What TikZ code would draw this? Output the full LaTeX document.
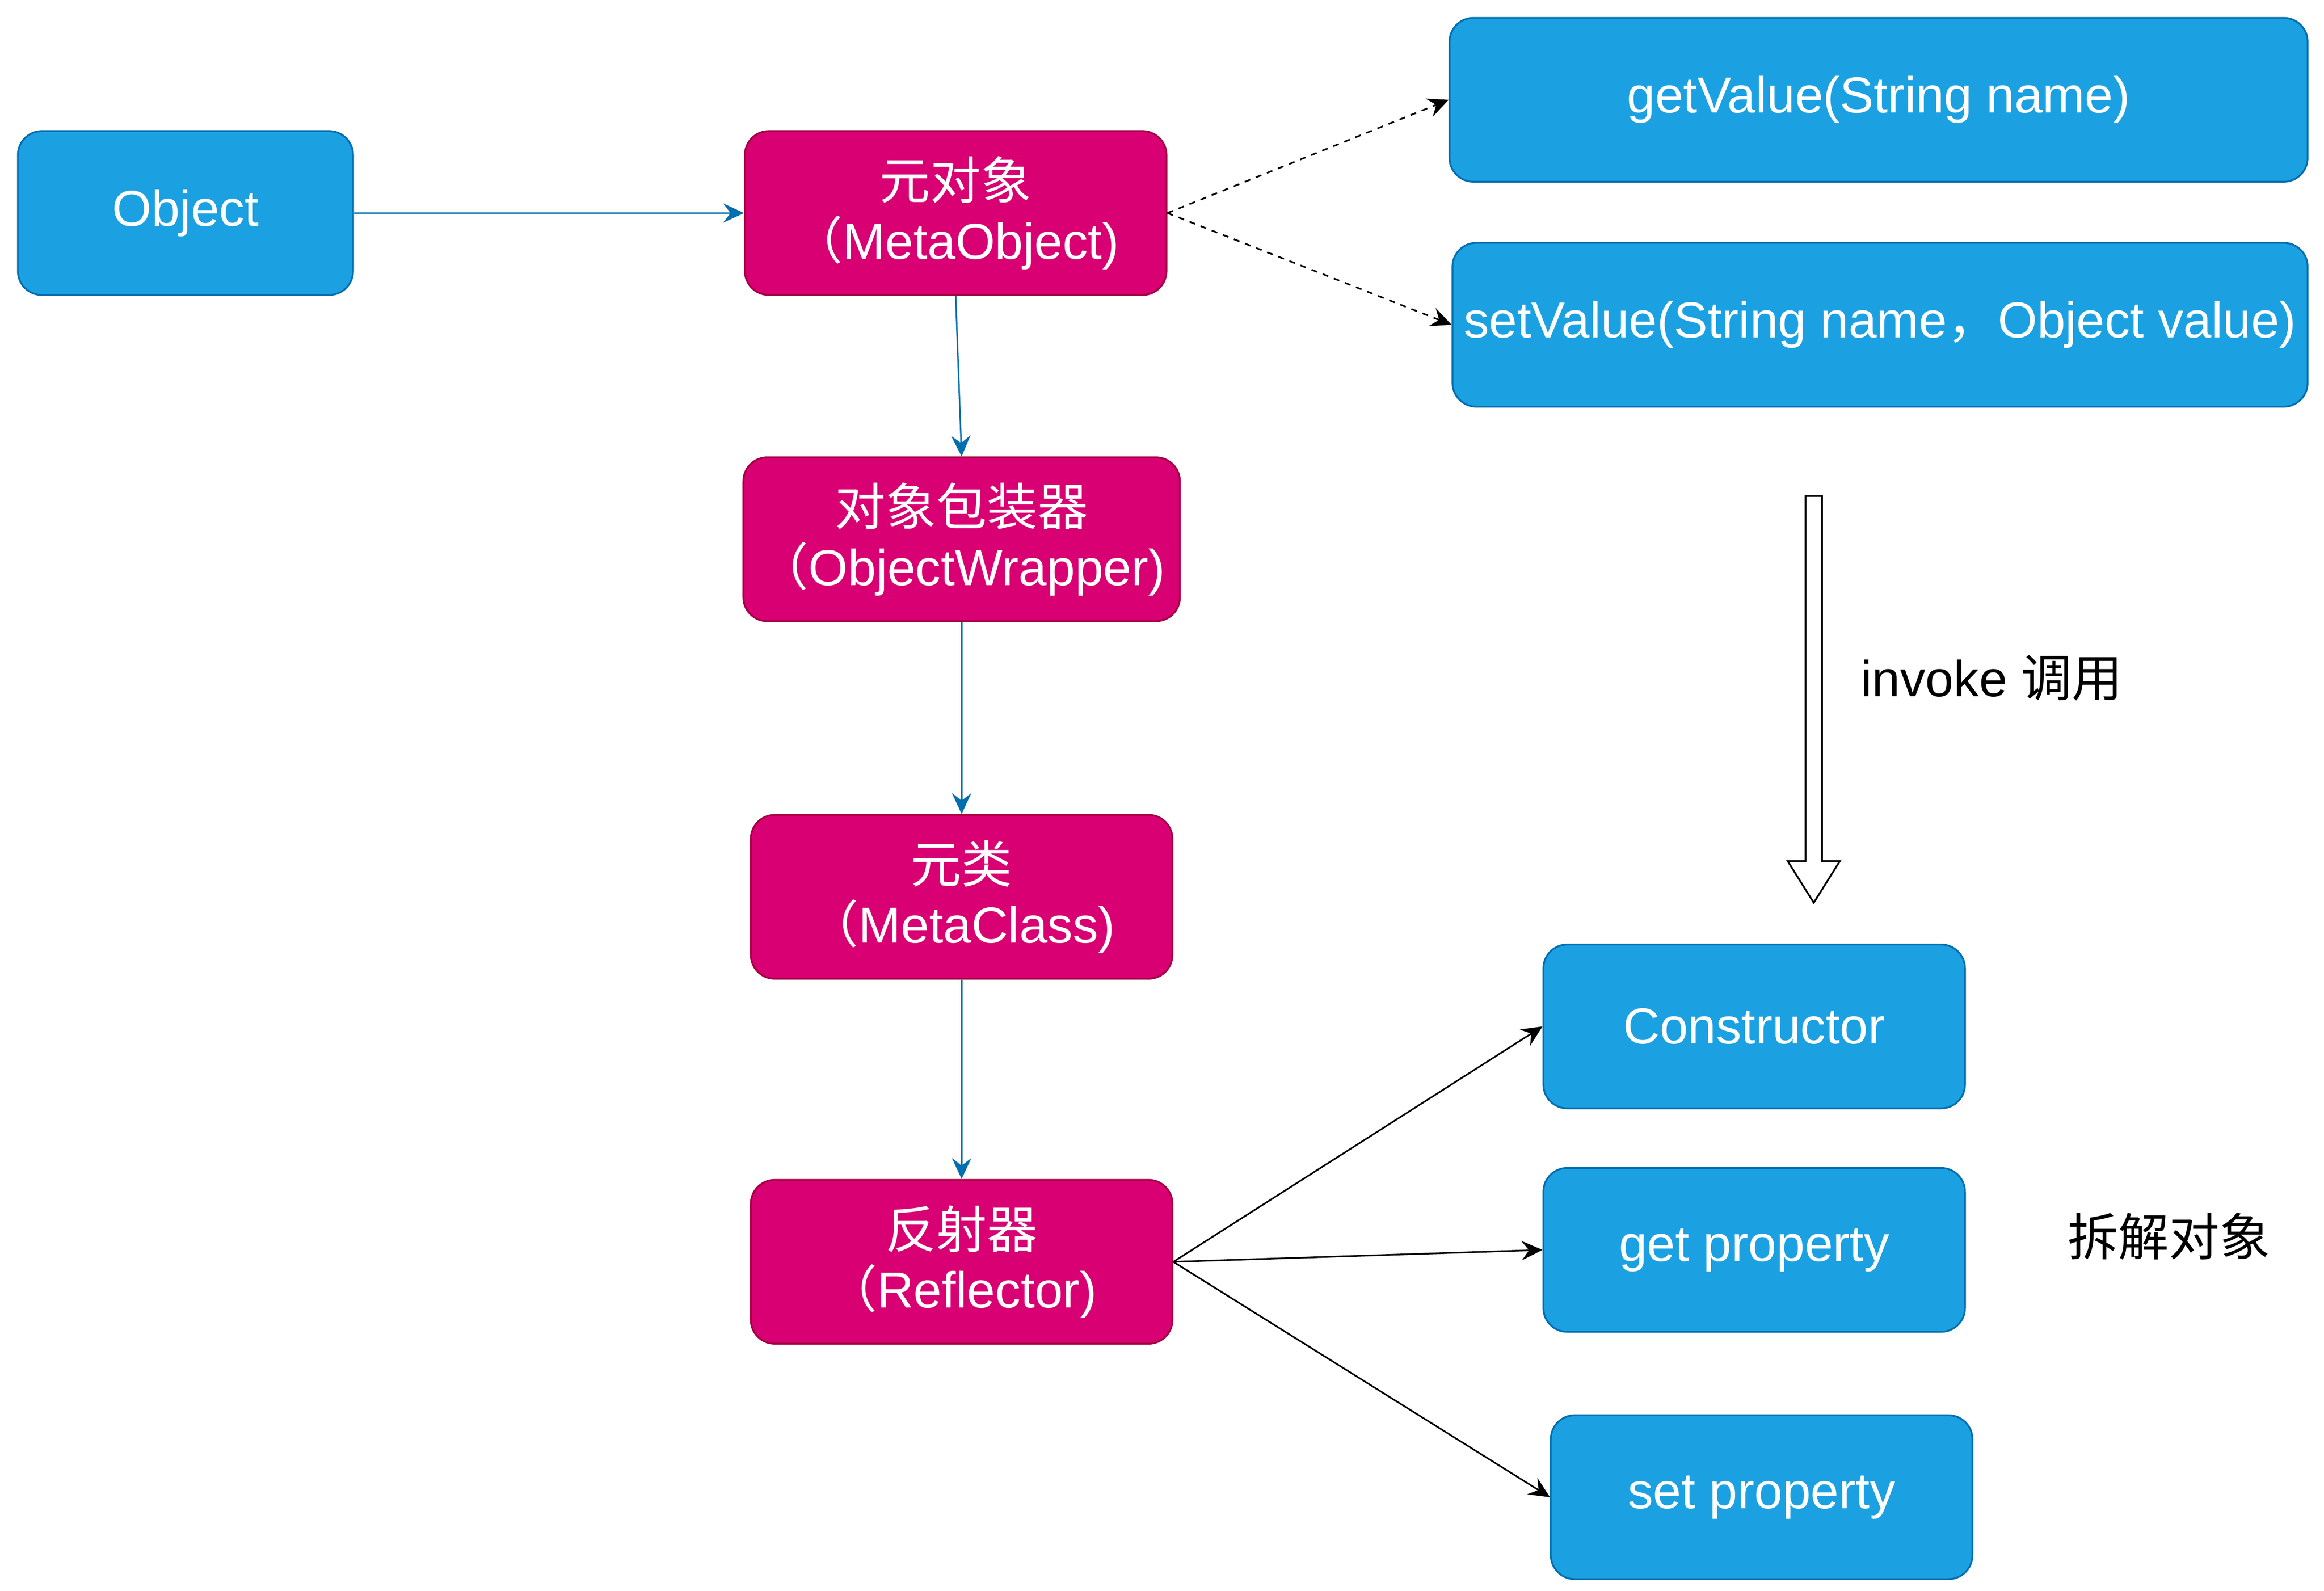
\documentclass[tikz,border=0pt]{standalone}
\usepackage{fontspec}
\setmainfont{Liberation Sans}
\newfontfamily\cjk{Noto Sans CJK SC}
\usetikzlibrary{arrows.meta}
\definecolor{bfill}{HTML}{1BA1E2}
\definecolor{bline}{HTML}{006EAF}
\definecolor{mfill}{HTML}{D80073}
\definecolor{mline}{HTML}{A50040}
\begin{document}
\begin{tikzpicture}[x=0.5pt,y=-0.5pt,
  box/.style={rounded corners=8pt, minimum height=55pt, inner sep=0pt, text=white,
    font=\fontsize{17}{20}\selectfont, align=center, line width=0.6pt},
  bluebox/.style={box, fill=bfill, draw=bline},
  magbox/.style={box, fill=mfill, draw=mline},
  tip/.style={-{Stealth[length=7pt,width=6.5pt,inset=2.5pt]}},
  flow/.style={tip, draw=bline, line width=0.5pt},
  dflow/.style={tip, draw=black, line width=0.55pt, dash pattern=on 2pt off 2pt},
  bflow/.style={tip, draw=black, line width=0.55pt},
  lbl/.style={inner sep=0pt, font=\fontsize{17}{20}\selectfont}]
\useasboundingbox (0,0) rectangle (1560,1067.85);
\fill[white] (0,0) rectangle (1560,1067.85);

\node[bluebox, minimum width=112.5pt] (obj) at (124.5,143) {Object};
\node[magbox, minimum width=141.5pt] (mo) at (641.5,143) {{\cjk 元对象}\\{\cjk （}MetaObject)};
\node[magbox, minimum width=146.5pt] (ow) at (645.5,362) {{\cjk 对象包装器}\\{\cjk （}ObjectWrapper)};
\node[magbox, minimum width=141.5pt] (mc) at (645.5,602) {{\cjk 元类}\\{\cjk （}MetaClass)};
\node[magbox, minimum width=141.5pt] (rf) at (645.5,847) {{\cjk 反射器}\\{\cjk （}Reflector)};

\node[bluebox, minimum width=288pt] (gv) at (1261,67) {getValue(String name)};
\node[bluebox, minimum width=287pt] (sv) at (1262,218) {setValue(String name{\cjk ，}Object value)};
\node[bluebox, minimum width=141.5pt] (con) at (1177.5,689) {Constructor};
\node[bluebox, minimum width=141.5pt] (gp) at (1177.5,839) {get property};
\node[bluebox, minimum width=141.5pt] (sp) at (1182.5,1005) {set property};

\draw[flow] (obj.east) -- (mo.west);
\draw[flow] (mo.south) -- (ow.north);
\draw[flow] (ow.south) -- (mc.north);
\draw[flow] (mc.south) -- (rf.north);

\draw[dflow] (mo.east) -- (gv.west);
\draw[dflow] (mo.east) -- (sv.west);

\draw[bflow] (rf.east) -- (con.west);
\draw[bflow] (rf.east) -- (gp.west);
\draw[bflow] (rf.east) -- (sp.west);

\draw[black, line width=0.6pt, fill=white]
  (1212,333) -- (1223,333) -- (1223,578) -- (1235,578) -- (1217.5,606)
  -- (1200,578) -- (1212,578) -- cycle;

\node[lbl] (inv) at (1337,455) {invoke {\cjk 调用}};
\node[lbl] (cj) at (1456,830) {\cjk 拆解对象};
\end{tikzpicture}
\end{document}
